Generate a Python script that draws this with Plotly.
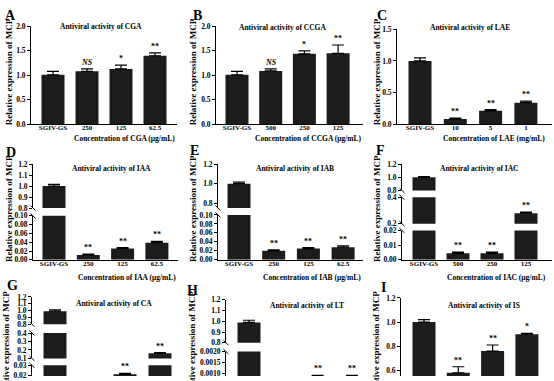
import math
import plotly.graph_objects as go

# ---------------- data ----------------
cat_A = ["SGIV-GS", "250", "125", "62.5"]
val_A = [1.01, 1.08, 1.13, 1.40]
err_A = [0.07, 0.05, 0.08, 0.06]
sig_A = ["", "NS", "*", "**"]

cat_B = ["SGIV-GS", "500", "250", "125"]
val_B = [1.01, 1.09, 1.44, 1.45]
err_B = [0.07, 0.04, 0.06, 0.17]
sig_B = ["", "NS", "*", "**"]

cat_C = ["SGIV-GS", "10", "5", "1"]
val_C = [1.00, 0.08, 0.21, 0.34]
err_C = [0.05, 0.015, 0.02, 0.025]
sig_C = ["", "**", "**", "**"]

cat_D = ["SGIV-GS", "250", "125", "62.5"]
val_D = [1.00, 0.011, 0.026, 0.039]
err_D = [0.015, 0.002, 0.002, 0.003]
sig_D = ["", "**", "**", "**"]

cat_E = ["SGIV-GS", "250", "125", "62.5"]
val_E = [1.00, 0.020, 0.025, 0.028]
err_E = [0.015, 0.002, 0.002, 0.003]
sig_E = ["", "**", "**", "**"]

cat_F = ["SGIV-GS", "500", "250", "125"]
val_F = [1.00, 0.0044, 0.0044, 0.28]
err_F = [0.01, 0.0008, 0.0008, 0.008]
sig_F = ["", "**", "**", "**"]

cat_G = ["SGIV-GS", "250", "125", "62.5"]
val_G = [0.99, 0.006, 0.021, 0.16]
err_G = [0.02, 0.001, 0.001, 0.008]
sig_G = ["", "**", "**", "**"]

cat_H = ["SGIV-GS", "250", "125", "62.5"]
val_H = [0.99, 0.0002, 0.00082, 0.00082]
err_H = [0.02, 0.00005, 0.0001, 0.0001]
sig_H = ["", "**", "**", "**"]

cat_I = ["SGIV-GS", "250", "125", "62.5"]
val_I = [1.00, 0.58, 0.76, 0.90]
err_I = [0.02, 0.05, 0.05, 0.006]
sig_I = ["", "**", "**", "*"]

titles = {
    "A": "Antiviral activity of CGA", "B": "Antiviral activity of CCGA",
    "C": "Antiviral activity of LAE", "D": "Antiviral activity of IAA",
    "E": "Antiviral activity of IAB", "F": "Antiviral activity of IAC",
    "G": "Antiviral activity of CA", "H": "Antiviral activity of LT",
    "I": "Antiviral activity of IS",
}
xtitles = {
    "A": "Concentration of CGA (μg/mL)", "B": "Concentration of CCGA (μg/mL)",
    "C": "Concentration of LAE (mg/mL)", "D": "Concentration of IAA (μg/mL)",
    "E": "Concentration of IAB (μg/mL)", "F": "Concentration of IAC (μg/mL)",
}
ytitle = "Relative expression of MCP"

panels = {
    "A": (cat_A, val_A, err_A, sig_A), "B": (cat_B, val_B, err_B, sig_B),
    "C": (cat_C, val_C, err_C, sig_C), "D": (cat_D, val_D, err_D, sig_D),
    "E": (cat_E, val_E, err_E, sig_E), "F": (cat_F, val_F, err_F, sig_F),
    "G": (cat_G, val_G, err_G, sig_G), "H": (cat_H, val_H, err_H, sig_H),
    "I": (cat_I, val_I, err_I, sig_I),
}

# ---------------- geometry (pixels) ----------------
W, H = 554, 381
FONT = "Liberation Serif"
BAR = "#1c1c1c"

geom = {
    "A": dict(ax=31, end=177, c0=53, s=34.0, segs=[(0, 2.0, 123, 23, 0.5, ".1f")],
              title=(101, 23), letter=(10, 12), yt=(9, 70), xt=(125, 138), row3=False),
    "B": dict(ax=216, end=363, c0=237, s=33.7, segs=[(0, 2.0, 123, 23, 0.5, ".1f")],
              title=(282, 24), letter=(197, 12), yt=(193, 70), xt=(308, 138), row3=False),
    "C": dict(ax=397, end=552, c0=420, s=35.3, segs=[(0, 1.5, 123, 26, 0.5, ".1f")],
              title=(470, 24), letter=(382, 12), yt=(377, 70), xt=(494, 138), row3=False),
    "D": dict(ax=33, end=178, c0=54, s=34.3,
              segs=[(0.8, 1.2, 209, 164, 0.1, ".1f"), (0, 0.10, 262, 217, 0.02, ".2f")],
              title=(111, 168), letter=(11, 152), yt=(9, 210), xt=(127, 280), row3=False),
    "E": dict(ax=218, end=363, c0=239, s=34.7,
              segs=[(0.75, 1.2, 209, 164, 0.2, ".1f"), (0, 0.10, 262, 216, 0.02, ".2f")],
              title=(295, 168), letter=(194, 150), yt=(193, 210), xt=(312, 280), row3=False),
    "F": dict(ax=402, end=552, c0=424, s=34.0,
              segs=[(0.8, 1.2, 191, 164, 0.2, ".1f"), (0.2, 0.4, 225, 198, 0.2, ".1f"),
                    (0, 0.02, 262, 232, 0.01, ".2f")],
              title=(479, 168), letter=(380, 150), yt=(377, 210), xt=(496, 280), row3=False),
    "G": dict(ax=32, end=178, c0=55, s=35.0,
              segs=[(0.8, 1.2, 328, 300, 0.1, ".1f"), (0.1, 0.4, 363, 337, 0.1, ".1f"),
                    (0, 0.03, 401, 370, 0.01, ".2f")],
              title=(114, 307), letter=(12, 288), yt=(6, 349), xt=None, row3=True),
    "H": dict(ax=226, end=370, c0=249, s=34.3,
              segs=[(0.8, 1.2, 347, 303, 0.1, ".1f"), (0, 0.002, 401, 356, 0.0005, ".4f")],
              title=(307, 309), letter=(192, 293), yt=(192, 349), xt=None, row3=True),
    "I": dict(ax=401, end=552, c0=424, s=34.3, segs=[(0.4, 1.2, 400, 301, 0.2, ".1f")],
              title=(484, 309), letter=(383, 290), yt=(376, 349), xt=None, row3=True),
}

fig = go.Figure()
layout = dict(width=W, height=H, margin=dict(l=0, r=0, t=0, b=0),
              paper_bgcolor="white", plot_bgcolor="white", showlegend=False,
              font=dict(family=FONT, color="black", size=7, weight="bold"))
ann = []
shapes = []


def tfont(size):
    return dict(family=FONT, size=size, color="black", weight="bold")


xi = 0
yi = 0
for key in ["A", "B", "C", "D", "E", "F", "G", "H", "I"]:
    cats, vals, errs, sig = panels[key]
    g = geom[key]
    xi += 1
    xname = "x" if xi == 1 else f"x{xi}"
    xlay = "xaxis" if xi == 1 else f"xaxis{xi}"
    lo_x = -(g["c0"] - g["ax"]) / g["s"]
    hi_x = (g["end"] - g["c0"]) / g["s"]
    bw = 23.0 / g["s"]
    seg_info = []
    for (lo, hi, pb, pt, dt, fmt) in g["segs"]:
        yi += 1
        yname = "y" if yi == 1 else f"y{yi}"
        ylay = "yaxis" if yi == 1 else f"yaxis{yi}"
        tv = [round(k * dt, 6) for k in range(math.ceil(lo / dt - 1e-9), math.floor(hi / dt + 1e-9) + 1)]
        tt = [format(v, fmt) for v in tv]
        rlo = lo
        rpb = pb
        if pb > H:
            rlo = lo + (hi - lo) * (pb - H) / (pb - pt)
            rpb = H
        layout[ylay] = dict(domain=[1 - rpb / H, 1 - pt / H], anchor=xname, range=[rlo, hi],
                            showline=True, linecolor="black", linewidth=1, ticks="outside",
                            ticklen=3, tickwidth=1, tickcolor="black", tickmode="array",
                            tickvals=tv, ticktext=tt, tickfont=tfont(7.5), showgrid=False,
                            zeroline=False, fixedrange=True)
        seg_info.append((yname, rlo, hi, rpb, pt))
        fig.add_trace(go.Bar(x=cats, y=vals, xaxis=xname, yaxis=yname, width=bw,
                             marker=dict(color=BAR, line=dict(width=0)),
                             error_y=dict(type="data", symmetric=False, array=errs,
                                          arrayminus=[0] * len(errs), color="black",
                                          thickness=1.2, width=6),
                             hoverinfo="skip"))
    bottom_y = seg_info[-1][0]
    layout[xlay] = dict(domain=[g["ax"] / W, g["end"] / W], anchor=bottom_y, type="category",
                        categoryorder="array", categoryarray=cats,
                        range=[lo_x, hi_x], showline=not g["row3"], linecolor="black",
                        linewidth=1, ticks="", tickfont=tfont(7), showgrid=False,
                        zeroline=False, ticklabelstandoff=-3,
                        showticklabels=not g["row3"], fixedrange=True)
    # break marks
    for a, b in zip(seg_info[:-1], seg_info[1:]):
        for yy in (a[3], b[4]):
            shapes.append(dict(type="line", xref="paper", yref="paper",
                               x0=(g["ax"] - 2.5) / W, x1=(g["ax"] + 2.5) / W,
                               y0=1 - (yy - 2.5) / H, y1=1 - (yy + 2.5) / H,
                               line=dict(color="black", width=1)))
    # significance labels (category index positions)
    for idx, (v, e, s) in enumerate(zip(vals, errs, sig)):
        if not s:
            continue
        top = v + e
        tgt = seg_info[-1][0]
        for (yn, lo, hi, _, _) in seg_info:
            if lo <= top <= hi:
                tgt = yn
                break
        txt = "<i>NS</i>" if s == "NS" else s
        ann.append(dict(x=idx, y=top, xref=xname, yref=tgt, text=txt, showarrow=False,
                        yanchor="bottom", yshift=0, font=tfont(8)))
    # texts
    ann.append(dict(x=g["title"][0] / W, y=1 - g["title"][1] / H, xref="paper", yref="paper",
                    text=titles[key], showarrow=False, font=tfont(7.5),
                    xanchor="center", yanchor="middle"))
    ann.append(dict(x=g["letter"][0] / W, y=1 - g["letter"][1] / H, xref="paper", yref="paper",
                    text=key, showarrow=False, font=tfont(14),
                    xanchor="center", yanchor="middle"))
    ann.append(dict(x=g["yt"][0] / W, y=1 - g["yt"][1] / H, xref="paper", yref="paper",
                    text=ytitle, showarrow=False, font=tfont(9), textangle=-90,
                    xanchor="center", yanchor="middle"))
    if g["xt"]:
        ann.append(dict(x=g["xt"][0] / W, y=1 - g["xt"][1] / H, xref="paper", yref="paper",
                        text=xtitles[key], showarrow=False, font=tfont(7.5),
                        xanchor="center", yanchor="middle"))

layout["annotations"] = ann
layout["shapes"] = shapes
fig.update_layout(**layout)
fig.write_html("out.html", config={"displayModeBar": False},
               post_script="document.body.style.margin='0';document.body.style.overflow='hidden';")
